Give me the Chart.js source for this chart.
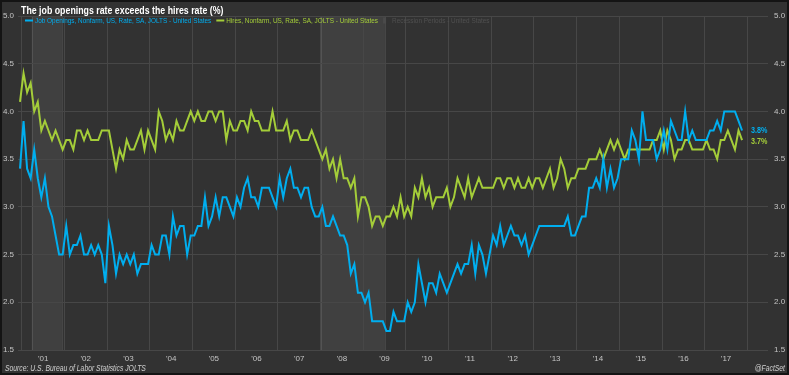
<!DOCTYPE html>
<html>
<head>
<meta charset="utf-8">
<script src="https://cdn.jsdelivr.net/npm/chart.js@4.4.1/dist/chart.umd.min.js"></script>
<style>
  html, body { margin: 0; padding: 0; background: #323232; }
  canvas { display: block; }
</style>
</head>
<body>
<canvas id="chart" width="789" height="375"></canvas>
<script>
// Monthly JOLTS rates (%), first value is Dec 2000, last is Nov 2017
const firstMonth = '2000-12';

const jobOpenings = [
  3.4,
  3.9, 3.4, 3.3, 3.6, 3.3, 3.1, 3.3, 3.0, 2.9, 2.7, 2.5, 2.5,   // 2001
  2.8, 2.5, 2.6, 2.6, 2.7, 2.5, 2.5, 2.6, 2.5, 2.6, 2.5, 2.2,   // 2002
  2.8, 2.6, 2.3, 2.5, 2.4, 2.5, 2.4, 2.5, 2.3, 2.4, 2.4, 2.4,   // 2003
  2.6, 2.5, 2.5, 2.7, 2.7, 2.5, 2.9, 2.7, 2.8, 2.8, 2.5, 2.7,   // 2004
  2.7, 2.8, 2.8, 3.1, 2.8, 2.9, 3.1, 2.9, 3.1, 3.1, 3.0, 2.9,   // 2005
  3.1, 3.0, 3.2, 3.3, 3.1, 3.1, 3.0, 3.2, 3.2, 3.2, 3.1, 3.0,   // 2006
  3.3, 3.1, 3.3, 3.4, 3.2, 3.2, 3.1, 3.2, 3.2, 3.0, 2.9, 2.9,   // 2007
  3.0, 2.8, 2.8, 2.9, 2.8, 2.7, 2.7, 2.6, 2.3, 2.4, 2.1, 2.1,   // 2008
  2.0, 2.1, 1.8, 1.8, 1.8, 1.8, 1.7, 1.7, 1.9, 1.8, 1.8, 1.8,   // 2009
  2.0, 1.9, 2.0, 2.4, 2.2, 2.0, 2.2, 2.2, 2.1, 2.3, 2.2, 2.1,   // 2010
  2.2, 2.3, 2.4, 2.3, 2.4, 2.4, 2.6, 2.3, 2.6, 2.5, 2.3, 2.5,   // 2011
  2.7, 2.6, 2.8, 2.6, 2.7, 2.8, 2.7, 2.7, 2.6, 2.7, 2.5, 2.6,   // 2012
  2.7, 2.8, 2.8, 2.8, 2.8, 2.8, 2.8, 2.8, 2.8, 2.9, 2.7, 2.7,   // 2013
  2.8, 2.9, 2.9, 3.2, 3.2, 3.3, 3.2, 3.5, 3.2, 3.4, 3.2, 3.3,   // 2014
  3.5, 3.5, 3.5, 3.8, 3.7, 3.5, 4.0, 3.7, 3.7, 3.7, 3.5, 3.6,   // 2015
  3.8, 3.6, 3.9, 3.8, 3.7, 3.7, 4.0, 3.7, 3.8, 3.7, 3.7, 3.7,   // 2016
  3.7, 3.8, 3.8, 3.9, 3.8, 4.0, 4.0, 4.0, 4.0, 3.9, 3.8         // 2017
];

const hires = [
  4.1,
  4.4, 4.2, 4.3, 4.0, 4.1, 3.8, 3.9, 3.8, 3.7, 3.8, 3.7, 3.6,   // 2001
  3.7, 3.7, 3.6, 3.8, 3.8, 3.7, 3.8, 3.7, 3.7, 3.7, 3.8, 3.8,   // 2002
  3.8, 3.6, 3.4, 3.6, 3.5, 3.7, 3.6, 3.6, 3.7, 3.8, 3.6, 3.8,   // 2003
  3.7, 3.6, 4.0, 3.9, 3.7, 3.8, 3.7, 3.9, 3.8, 3.8, 3.9, 4.0,   // 2004
  3.9, 4.0, 3.9, 3.9, 4.0, 4.0, 3.9, 4.0, 4.0, 3.7, 3.9, 3.8,   // 2005
  3.8, 3.9, 3.9, 3.8, 4.0, 3.9, 3.9, 3.8, 3.8, 3.8, 4.0, 3.8,   // 2006
  3.8, 3.8, 3.9, 3.7, 3.8, 3.8, 3.7, 3.7, 3.7, 3.8, 3.7, 3.6,   // 2007
  3.5, 3.6, 3.4, 3.5, 3.3, 3.5, 3.3, 3.3, 3.2, 3.3, 2.9, 3.1,   // 2008
  3.1, 3.0, 2.8, 2.9, 2.9, 2.8, 2.9, 2.9, 3.0, 2.9, 3.1, 2.9,   // 2009
  3.0, 2.9, 3.2, 3.1, 3.3, 3.1, 3.2, 3.0, 3.1, 3.1, 3.1, 3.2,   // 2010
  3.0, 3.1, 3.3, 3.2, 3.1, 3.3, 3.1, 3.2, 3.3, 3.2, 3.2, 3.2,   // 2011
  3.2, 3.3, 3.3, 3.2, 3.3, 3.3, 3.2, 3.3, 3.2, 3.2, 3.3, 3.2,   // 2012
  3.3, 3.3, 3.2, 3.3, 3.4, 3.2, 3.3, 3.5, 3.4, 3.2, 3.3, 3.3,   // 2013
  3.4, 3.4, 3.4, 3.5, 3.5, 3.5, 3.6, 3.5, 3.6, 3.7, 3.6, 3.7,   // 2014
  3.6, 3.5, 3.6, 3.6, 3.6, 3.6, 3.6, 3.6, 3.6, 3.7, 3.7, 3.8,   // 2015
  3.6, 3.8, 3.7, 3.5, 3.6, 3.6, 3.7, 3.7, 3.6, 3.6, 3.6, 3.6,   // 2016
  3.7, 3.6, 3.6, 3.5, 3.7, 3.7, 3.8, 3.7, 3.6, 3.8, 3.7         // 2017
];

// x axis labels, one per calendar year
const yearLabels = ["'01", "'02", "'03", "'04", "'05", "'06", "'07", "'08", "'09",
                    "'10", "'11", "'12", "'13", "'14", "'15", "'16", "'17"];

// recession periods, in months counted from firstMonth
const recessions = [[3.3, 11.8], [84.5, 102.6]];

const yTicks = [1.5, 2.0, 2.5, 3.0, 3.5, 4.0, 4.5, 5.0];

const BLUE = '#00aeef';
const GREEN = '#a4cd39';
const GRID = '#474747';
const FONT = "'Liberation Sans', Arial, sans-serif";
const NARROW = 0.8;   // horizontal squeeze to mimic a condensed face

Chart.defaults.font.family = FONT;

const isYearStart = v => Math.abs((v - 0.5) / 12 - Math.round((v - 0.5) / 12)) < 1e-6;

const toPoints = arr => arr.map((v, i) => ({ x: i, y: v }));

// draw text squeezed horizontally, returns the drawn width
function narrowText(ctx, text, x, y, align = 'left') {
    const w = ctx.measureText(text).width * NARROW;
    const left = align === 'right' ? x - w : x;
    ctx.save();
    ctx.translate(left, y);
    ctx.scale(NARROW, 1);
    ctx.textAlign = 'left';
    ctx.fillText(text, 0, 0);
    ctx.restore();
    return w;
}

// background, recession bands, title, legend, footer and end labels
const decorations = {
    id: 'decorations',
    beforeDraw(chart) {
        const { ctx, chartArea: a, scales: { x } } = chart;
        ctx.save();
        ctx.fillStyle = '#323232';
        ctx.fillRect(0, 0, chart.width, chart.height);
        recessions.forEach(([s, e]) => {
            const x0 = x.getPixelForValue(s);
            const x1 = x.getPixelForValue(e);
            ctx.fillStyle = 'rgba(255,255,255,0.07)';
            ctx.fillRect(x0, a.top, x1 - x0, a.bottom - a.top);
            ctx.strokeStyle = 'rgba(255,255,255,0.10)';
            ctx.lineWidth = 1;
            ctx.beginPath();
            ctx.moveTo(Math.round(x0) + 0.5, a.top);
            ctx.lineTo(Math.round(x0) + 0.5, a.bottom);
            ctx.moveTo(Math.round(x1) + 0.5, a.top);
            ctx.lineTo(Math.round(x1) + 0.5, a.bottom);
            ctx.stroke();
        });
        ctx.restore();
    },
    afterDraw(chart) {
        const { ctx, scales: { x, y } } = chart;
        ctx.save();

        // title
        ctx.fillStyle = '#ffffff';
        ctx.font = `bold 11px ${FONT}`;
        ctx.textBaseline = 'alphabetic';
        narrowText(ctx, 'The job openings rate exceeds the hires rate (%)', 21, 14);

        // legend
        ctx.font = `8px ${FONT}`;
        ctx.textBaseline = 'middle';
        const ly = 20.5;
        let lx = 25;
        const items = [
            { text: 'Job Openings, Nonfarm, US, Rate, SA, JOLTS - United States', color: BLUE, kind: 'line' },
            { text: 'Hires, Nonfarm, US, Rate, SA, JOLTS - United States', color: GREEN, kind: 'line' },
            { text: 'Recession Periods - United States', color: '#505050', kind: 'box' }
        ];
        items.forEach(it => {
            if (it.kind === 'line') {
                ctx.strokeStyle = it.color;
                ctx.lineWidth = 2;
                ctx.beginPath();
                ctx.moveTo(lx, ly);
                ctx.lineTo(lx + 8, ly);
                ctx.stroke();
                lx += 10;
            } else {
                ctx.fillStyle = '#4a4a4a';
                ctx.fillRect(lx, ly - 3, 3, 6);
                lx += 9;
            }
            ctx.fillStyle = it.color;
            lx += narrowText(ctx, it.text, lx, ly) + 5;
        });

        // values at the end of the lines
        ctx.font = `bold 9px ${FONT}`;
        const last = jobOpenings.length - 1;
        const ex = x.getPixelForValue(last) + 9;
        ctx.fillStyle = BLUE;
        narrowText(ctx, jobOpenings[last].toFixed(1) + '%', ex, y.getPixelForValue(jobOpenings[last]));
        ctx.fillStyle = GREEN;
        narrowText(ctx, hires[hires.length - 1].toFixed(1) + '%', ex, y.getPixelForValue(hires[hires.length - 1]) + 1);

        // footer
        ctx.fillStyle = '#d0d0d0';
        ctx.font = `italic 8.5px ${FONT}`;
        ctx.textBaseline = 'alphabetic';
        narrowText(ctx, 'Source: U.S. Bureau of Labor Statistics JOLTS', 5, 371);
        narrowText(ctx, '@FactSet', 785, 371, 'right');

        // outer frame
        ctx.strokeStyle = '#141414';
        ctx.lineWidth = 2;
        ctx.strokeRect(1, 1, chart.width - 2, chart.height - 2);
        ctx.restore();
    }
};

const yAxis = (position, width, padding) => ({
    position,
    min: 1.5,
    max: 5.0,
    afterBuildTicks: s => { s.ticks = yTicks.map(v => ({ value: v })); },
    afterFit: s => { s.width = width; },
    border: { display: false },
    grid: { display: position === 'left', color: GRID, drawTicks: false, lineWidth: 1 },
    ticks: {
        color: '#c4c4c4',
        font: { size: 8 },
        padding,
        callback: v => v.toFixed(1)
    }
});

new Chart(document.getElementById('chart'), {
    type: 'line',
    data: {
        datasets: [
            {
                label: 'Job Openings, Nonfarm, US, Rate, SA, JOLTS - United States',
                data: toPoints(jobOpenings),
                borderColor: BLUE,
                borderWidth: 2,
                pointRadius: 0,
                tension: 0,
                fill: false
            },
            {
                label: 'Hires, Nonfarm, US, Rate, SA, JOLTS - United States',
                data: toPoints(hires),
                borderColor: GREEN,
                borderWidth: 2,
                pointRadius: 0,
                tension: 0,
                fill: false
            }
        ]
    },
    options: {
        responsive: false,
        animation: false,
        layout: { padding: { top: 16, left: 0, right: 0, bottom: 0 } },
        plugins: {
            legend: { display: false },
            tooltip: { enabled: false },
            title: { display: false }
        },
        scales: {
            x: {
                type: 'linear',
                min: -0.56,
                max: 210.29,
                afterBuildTicks: s => {
                    const t = [];
                    for (let n = 0; n <= yearLabels.length; n++) {
                        t.push({ value: 0.5 + 12 * n });
                        if (n < yearLabels.length) t.push({ value: 6.5 + 12 * n });
                    }
                    s.ticks = t;
                },
                afterFit: s => { s.height = 25; },
                border: { display: false },
                grid: {
                    drawTicks: false,
                    color: c => (c.tick && isYearStart(c.tick.value)) ? GRID : 'transparent'
                },
                ticks: {
                    autoSkip: false,
                    maxRotation: 0,
                    color: '#c4c4c4',
                    font: { size: 8 },
                    padding: 4,
                    callback: v => {
                        if (isYearStart(v)) return '';
                        const n = Math.round((v - 6.5) / 12);
                        return yearLabels[n] || '';
                    }
                }
            },
            y: yAxis('left', 18, 4),
            y2: yAxis('right', 21, 6)
        }
    },
    plugins: [decorations]
});
</script>
</body>
</html>
